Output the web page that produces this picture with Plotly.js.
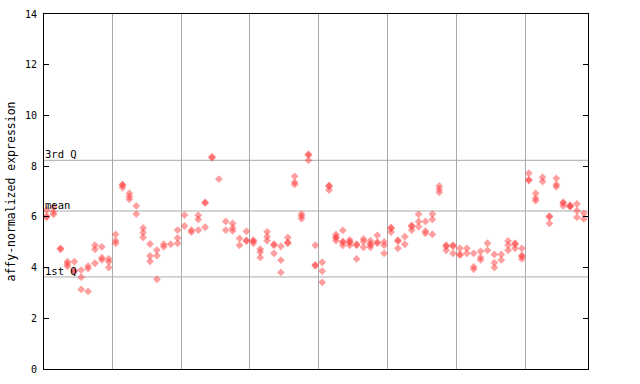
<!DOCTYPE html>
<html>
<head>
<meta charset="utf-8">
<script src="https://cdn.plot.ly/plotly-3.0.1.min.js"></script>
<style>html,body{margin:0;padding:0;background:#fff;}#chart{width:640px;height:384px;}</style>
</head>
<body>
<div id="chart"></div>
<script>
// Expression values, one inner list per sample column, grouped by the 8 panels
const group1 = [[6.27,6.03,5.98],[6.38,6.2,6.1],[4.76,4.72],[4.23,4.14,4.05],[4.23,3.88,3.85],[3.90,3.62,3.14],[4.06,3.96,3.06],[4.88,4.72,4.17],[4.82,4.39,4.30],[4.34,4.23,4.0]];
const group2 = [[5.31,5.06,4.96],[7.28,7.25,7.15],[6.93,6.80,6.69],[6.43,6.11],[5.56,5.38,5.19],[4.93,4.46,4.25],[4.69,4.47,3.54],[4.92,4.82],[4.92],[5.48,5.17,4.96]];
const group3 = [[6.07,5.64],[5.48,5.40],[6.06,5.90,5.48],[6.57,6.55,5.59],[8.37,8.33],[7.49],[5.82,5.48],[5.74,5.56,5.45],[5.15,4.88],[5.43,5.08,5.04]];
const group4 = [[5.08,5.04,4.96],[4.73,4.61,4.40],[5.41,5.22,5.06],[4.92,4.88,4.56],[4.84,4.29,3.81],[5.19,5.0,4.96],[7.60,7.36,7.28],[6.11,6.03,5.93],[8.47,8.43,8.23],[4.88,4.11,4.07]];
const group5 = [[4.21,3.86,3.42],[7.24,7.20,7.06],[5.30,5.21,5.17,5.06],[5.47,5.03,4.99,4.88],[5.09,5.02,4.98,4.88],[4.92,4.88,4.34],[5.13,5.02,4.80],[5.06,4.94,4.90,4.80],[5.27,5.0,4.96],[5.01,4.88,4.56]];
const group6 = [[5.58,5.54,5.40],[5.08,5.04,4.76],[5.22,4.92],[5.66,5.62,5.48],[6.10,5.82,5.61],[5.82,5.44,5.35],[6.11,5.90,5.31],[7.22,7.09,6.97],[4.88,4.84,4.68],[4.88,4.84,4.56]];
const group7 = [[4.76,4.53,4.49],[4.76,4.56],[4.56,4.03,3.93],[4.64,4.40,4.30],[4.96,4.68],[4.52,4.19,4.0],[4.52,4.30],[5.05,4.88,4.68],[4.96,4.92,4.76],[4.76,4.48,4.44,4.34]];
const group8 = [[7.72,7.47,7.43],[6.93,6.73,6.64],[7.56,7.39],[6.03,5.99,5.74],[7.52,7.28,7.19],[6.58,6.54,6.43],[6.46,6.42,6.40],[6.51,6.24,5.98],[6.14,5.92]];
const groups = [group1, group2, group3, group4, group5, group6, group7, group8];

// Reference lines
const refLabels = ["3rd Q", "mean", "1st Q"];
const refValues = [8.23, 6.23, 3.63];

const yTicks = [0, 2, 4, 6, 8, 10, 12, 14];

const xs = [], ys = [];
let col = 0;
const boundaries = [];
groups.forEach((g, gi) => {
  g.forEach(vals => {
    vals.forEach(v => { xs.push(col); ys.push(v); });
    col++;
  });
  if (gi < groups.length - 1) boundaries.push(col - 0.5);
});

const mono = "DejaVu Sans Mono, monospace";

const trace = {
  type: "scatter", mode: "markers", x: xs, y: ys,
  marker: {symbol: "diamond", size: 6, color: "rgba(255,64,64,0.5)", line: {width: 0}},
  hoverinfo: "y"
};

const shapes = refValues.map(v => ({
  type: "line", xref: "paper", x0: 0, x1: 1, yref: "y", y0: v, y1: v,
  line: {color: "#aaaaaa", width: 1}, layer: "below"
}));

const annotations = refValues.map((v, i) => ({
  xref: "paper", x: 0, yref: "y", y: v, text: refLabels[i], showarrow: false,
  xanchor: "left", yanchor: "bottom", yshift: -2, xshift: -1,
  font: {family: mono, size: 10.5, color: "#000"}
}));

const layout = {
  width: 640, height: 384,
  margin: {l: 44, r: 52, t: 14, b: 15},
  paper_bgcolor: "#fff", plot_bgcolor: "#fff",
  showlegend: false,
  xaxis: {
    range: [-0.4, col - 0.4], tickvals: boundaries, showticklabels: false, ticks: "",
    showgrid: true, gridcolor: "#aaaaaa", gridwidth: 1, zeroline: false,
    showline: true, linecolor: "#000", linewidth: 1, mirror: true
  },
  yaxis: {
    range: [0, 14], tickvals: yTicks, ticktext: yTicks.map(String),
    ticks: "inside", ticklen: 5, tickcolor: "#000", showgrid: false, zeroline: false,
    showline: true, linecolor: "#000", linewidth: 1, mirror: "ticks",
    tickfont: {family: mono, size: 10, color: "#000"}, ticklabelstandoff: 4,
    title: {text: "affy-normalized expression", font: {family: mono, size: 11.5, color: "#000"}, standoff: 6}
  },
  shapes: shapes,
  annotations: annotations
};

Plotly.newPlot("chart", [trace], layout, {staticPlot: true, displayModeBar: false});
</script>
</body>
</html>
